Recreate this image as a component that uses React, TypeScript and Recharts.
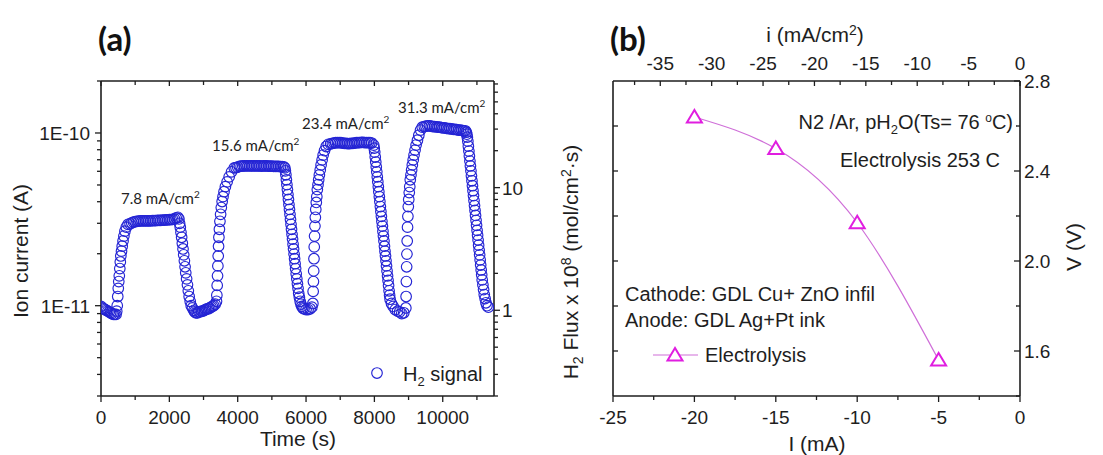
import React from "react";
import { ScatterChart, Scatter, XAxis, YAxis, ComposedChart, Line } from "recharts";

// ---------- Panel (a): H2 signal, ion current (units of 1E-11 A) vs time (s) ----------
const timeS = [
  // baseline
  0, 40, 80, 120, 160, 200, 240, 280, 320, 360, 400, 440,
  // rise 1
  460, 475, 490, 505, 520, 535, 550, 565, 580, 600, 620, 645, 670, 700, 740, 790,
  // plateau 1
  850, 900, 950, 1000, 1050, 1100, 1150, 1200, 1250, 1300, 1350, 1400, 1450, 1500, 1550, 1600, 1650, 1700, 1750, 1800, 1850, 1900, 1950, 2000, 2050, 2100, 2150, 2200, 2250,
  // fall 1
  2280, 2300, 2320, 2340, 2360, 2380, 2400, 2420, 2440, 2460, 2480, 2505, 2530, 2555, 2580, 2610, 2640, 2675, 2720,
  // baseline 2
  2740, 2780, 2820, 2860, 2900, 2940, 2980, 3020, 3060, 3100, 3140, 3180, 3220, 3260, 3300, 3340,
  // rise 2
  3380, 3390, 3400, 3410, 3420, 3430, 3440, 3450, 3465, 3480, 3500, 3520, 3545, 3570, 3600, 3640, 3690, 3750, 3820, 3900,
  // plateau 2
  3950, 4000, 4050, 4100, 4150, 4200, 4250, 4300, 4350, 4400, 4450, 4500, 4550, 4600, 4650, 4700, 4750, 4800, 4850, 4900, 4950, 5000, 5050, 5100, 5150, 5200, 5250, 5300, 5350,
  // fall 2
  5380, 5395, 5410, 5425, 5440, 5455, 5470, 5485, 5500, 5515, 5530, 5545, 5560, 5575, 5590, 5605, 5620, 5635, 5650, 5665, 5680, 5695,
  5712, 5730, 5748, 5766, 5785, 5805, 5828, 5852, 5878, 5905,
  // baseline 3
  5940, 6000, 6060, 6120, 6170,
  // rise 3
  6200, 6208, 6216, 6224, 6232, 6240, 6250, 6260, 6272, 6285, 6300, 6315, 6330, 6350, 6370, 6390, 6415, 6440, 6470, 6500, 6540, 6590, 6650,
  // plateau 3
  6720, 6770, 6820, 6870, 6920, 6970, 7020, 7070, 7120, 7170, 7220, 7270, 7320, 7370, 7420, 7470, 7520, 7570, 7620, 7670, 7720, 7770, 7820, 7870, 7920,
  // fall 3
  7980, 7995, 8010, 8025, 8040, 8055, 8070, 8085, 8100, 8115, 8130, 8145, 8160, 8175, 8190, 8205, 8220, 8235, 8250, 8265, 8280, 8295,
  8310, 8325, 8340, 8355, 8370, 8385, 8400, 8415, 8430, 8445, 8460, 8500, 8550, 8610, 8680,
  // baseline 4
  8740, 8800, 8860,
  // rise 4
  8920, 8928, 8936, 8944, 8952, 8960, 8970, 8980, 8992, 9005, 9020, 9035, 9050, 9070, 9090, 9110, 9135, 9160, 9190, 9220, 9260, 9300, 9350, 9400,
  // plateau 4
  9460, 9510, 9560, 9610, 9660, 9710, 9760, 9810, 9860, 9910, 9960, 10010, 10060, 10110, 10160, 10210, 10260, 10310, 10360, 10410, 10460, 10510, 10560, 10610, 10660,
  // fall 4
  10690, 10705, 10720, 10735, 10750, 10765, 10780, 10795, 10810, 10825, 10840, 10855, 10870, 10885, 10900, 10915, 10930, 10945, 10960, 10975,
  10990, 11005, 11020, 11035, 11050, 11065, 11080, 11095, 11110, 11125, 11140, 11155, 11175, 11195, 11215, 11240, 11265, 11295, 11335,
];

const ionCurrentE11 = [
  // baseline
  0.99, 0.97, 0.96, 0.95, 0.94, 0.93, 0.92, 0.91, 0.9, 0.89, 0.89, 0.89,
  // rise 1
  0.93, 1.0, 1.13, 1.26, 1.38, 1.49, 1.64, 1.79, 1.94, 2.07, 2.21, 2.37, 2.53, 2.7, 2.85, 2.96,
  // plateau 1
  2.98, 3.02, 3.05, 3.07, 3.08, 3.09, 3.1, 3.1, 3.1, 3.1, 3.1, 3.1, 3.1, 3.11, 3.11, 3.11, 3.12, 3.12, 3.12, 3.13, 3.13, 3.14, 3.14, 3.15, 3.15, 3.16, 3.18, 3.22, 3.25,
  // fall 1
  3.18, 3.0, 2.85, 2.66, 2.49, 2.3, 2.13, 1.97, 1.82, 1.68, 1.55, 1.43, 1.32, 1.22, 1.13, 1.06, 1.0, 0.97, 0.94,
  // baseline 2
  0.92, 0.91, 0.91, 0.92, 0.92, 0.93, 0.93, 0.94, 0.95, 0.96, 0.96, 0.97, 0.98, 0.99, 1.0, 1.02,
  // rise 2
  1.06, 1.15, 1.31, 1.49, 1.7, 1.94, 2.21, 2.49, 2.77, 3.08, 3.38, 3.7, 4.01, 4.28, 4.57, 4.89, 5.21, 5.57, 5.96, 6.28,
  // plateau 2
  6.3, 6.35, 6.4, 6.42, 6.44, 6.45, 6.45, 6.46, 6.45, 6.45, 6.44, 6.45, 6.46, 6.45, 6.44, 6.43, 6.44, 6.45, 6.44, 6.43, 6.42, 6.42, 6.41, 6.41, 6.4, 6.4, 6.39, 6.38, 6.36,
  // fall 2
  6.28, 6.04, 5.73, 5.36, 5.02, 4.7, 4.4, 4.12, 3.85, 3.61, 3.38, 3.16, 2.96, 2.77, 2.59, 2.43, 2.27, 2.13, 1.99, 1.87, 1.75, 1.64,
  1.53, 1.43, 1.34, 1.26, 1.18, 1.12, 1.06, 1.02, 0.99, 0.97,
  // baseline 3
  0.96, 0.95, 0.95, 0.96, 0.98,
  // rise 3
  1.03, 1.21, 1.38, 1.59, 1.87, 2.19, 2.53, 2.89, 3.25, 3.61, 3.96, 4.28, 4.7, 5.02, 5.36, 5.72, 6.11, 6.53, 6.98, 7.45, 7.9, 8.35, 8.6,
  // plateau 3
  8.65, 8.7, 8.75, 8.78, 8.8, 8.8, 8.78, 8.75, 8.72, 8.7, 8.68, 8.68, 8.7, 8.72, 8.75, 8.78, 8.8, 8.8, 8.82, 8.82, 8.8, 8.8, 8.8, 8.78, 8.75,
  // fall 3
  8.51, 8.17, 7.75, 7.26, 6.79, 6.36, 5.96, 5.57, 5.22, 4.89, 4.57, 4.28, 4.01, 3.75, 3.51, 3.29, 3.08, 2.89, 2.7, 2.53, 2.37, 2.21,
  2.07, 1.94, 1.82, 1.7, 1.59, 1.49, 1.4, 1.31, 1.22, 1.15, 1.09, 1.03, 0.99, 0.95, 0.93,
  // baseline 4
  0.92, 0.9, 0.91,
  // rise 4
  0.97, 1.13, 1.38, 1.68, 1.99, 2.37, 2.85, 3.29, 3.75, 4.12, 4.52, 4.89, 5.36, 5.72, 6.11, 6.53, 6.98, 7.45, 7.96, 8.51, 9.08, 9.7, 10.4, 10.8,
  // plateau 4
  10.9, 10.95, 11.0, 11.0, 10.95, 10.9, 10.9, 10.85, 10.8, 10.8, 10.75, 10.7, 10.7, 10.65, 10.6, 10.6, 10.55, 10.5, 10.5, 10.45, 10.4, 10.4, 10.35, 10.3, 10.3,
  // fall 4
  10.1, 9.84, 9.46, 8.97, 8.39, 7.86, 7.36, 6.88, 6.44, 6.04, 5.65, 5.29, 4.95, 4.63, 4.34, 4.06, 3.8, 3.56, 3.33, 3.12,
  2.92, 2.73, 2.56, 2.4, 2.24, 2.1, 1.97, 1.84, 1.72, 1.61, 1.51, 1.41, 1.32, 1.24, 1.16, 1.1, 1.04, 1.0, 0.98,
];

const timeTicks = [0, 1000, 2000, 3000, 4000, 5000, 6000, 7000, 8000, 9000, 10000, 11000];
const timeMajor = [0, 2000, 4000, 6000, 8000, 10000];
const ionTicks = [0.3, 0.4, 0.5, 0.6, 0.7, 0.8, 0.9, 1, 2, 3, 4, 5, 6, 7, 8, 9, 10, 20];
const ionMajor = [1, 10];
const ionLabels = ["1E-11", "1E-10"];
const fluxTicks = [0.2, 0.3, 0.4, 0.5, 0.6, 0.7, 0.8, 0.9, 1, 2, 3, 4, 5, 6, 7, 8, 9, 10, 20, 30, 40, 50, 60, 70];
const fluxMajor = [1, 10];
const fluxLabels = ["1", "10"];
const pulseLabels = ["7.8", "15.6", "23.4", "31.3"];

// ---------- Panel (b): V vs I ----------
const currentMA = [-20, -15, -10, -5];
const voltageV = [2.64, 2.5, 2.17, 1.56];
const currentTicks = [-25, -22.5, -20, -17.5, -15, -12.5, -10, -7.5, -5, -2.5, 0];
const currentMajor = [-25, -20, -15, -10, -5, 0];
const densityTicks = [-37.5, -35, -32.5, -30, -27.5, -25, -22.5, -20, -17.5, -15, -12.5, -10, -7.5, -5, -2.5, 0];
const densityMajor = [-35, -30, -25, -20, -15, -10, -5, 0];
const voltTicks = [1.4, 1.6, 1.8, 2.0, 2.2, 2.4, 2.6, 2.8];
const voltMajor = [1.6, 2.0, 2.4, 2.8];
const leftFluxTicksB = [1.6, 1.8, 2.0, 2.2, 2.4, 2.6];

const ionData = timeS
  .slice(0, Math.min(timeS.length, ionCurrentE11.length))
  .map((t, i) => ({ t, i: ionCurrentE11[i] }));
const ivData = currentMA.map((c, k) => ({ I: c, V: voltageV[k] }));

const AX = "#1e1e1e";
const SANS = "'Liberation Sans', Arial, sans-serif";
const CAL = "Lato, 'Open Sans', sans-serif";
const BLUE = "#2424d4";
const MAG = "#e01ee0";
const TICK_FS = 19;
const TITLE_FS = 21;
const NOTE_FS = 20;

const near = (a: number, list: number[]) => list.findIndex((m) => Math.abs(m - a) < 1e-6);

function makeTick(
  side: "bottom" | "top" | "left" | "right",
  dir: "in" | "out",
  majors: number[],
  labels: ((v: number, k: number) => string) | null,
  majorLen = 6,
  minorLen = 3.5,
  gap = 6
) {
  return (p: any) => {
    const x = p.x;
    const y = p.y;
    const v = p.payload.value;
    const k = near(v, majors);
    const maj = k >= 0;
    const L = maj ? majorLen : minorLen;
    const s = dir === "out" ? 1 : -1;
    let x2 = x;
    let y2 = y;
    if (side === "bottom") y2 = y + s * L;
    if (side === "top") y2 = y - s * L;
    if (side === "left") x2 = x - s * L;
    if (side === "right") x2 = x + s * L;
    const txt = maj && labels ? labels(v, k) : null;
    let label: any = null;
    const tp = { fontFamily: SANS, fontSize: TICK_FS, fill: AX } as any;
    if (txt !== null) {
      if (side === "bottom")
        label = (
          <text x={x} y={y + 28} textAnchor="middle" {...tp}>
            {txt}
          </text>
        );
      if (side === "top")
        label = (
          <text x={x} y={y - 11} textAnchor="middle" {...tp}>
            {txt}
          </text>
        );
      if (side === "left")
        label = (
          <text x={x - gap} y={y + 7} textAnchor="end" {...tp}>
            {txt}
          </text>
        );
      if (side === "right")
        label = (
          <text x={x + gap} y={y + 7} textAnchor="start" {...tp}>
            {txt}
          </text>
        );
    }
    return (
      <g>
        <line x1={x} y1={y} x2={x2} y2={y2} stroke={AX} strokeWidth={1.3} />
        {label}
      </g>
    );
  };
}

const axisLine = { stroke: AX, strokeWidth: 1.6 };

const Circle = (p: any) => (
  <circle cx={p.cx} cy={p.cy} r={5.3} fill="none" stroke={BLUE} strokeWidth={1.15} />
);
const Nothing = () => <g />;

const Tri = (p: any) => {
  const { cx, cy } = p;
  if (cx == null || cy == null) return <g />;
  return (
    <path
      d={`M${cx},${cy - 7} L${cx - 7.5},${cy + 5.5} L${cx + 7.5},${cy + 5.5} Z`}
      fill="#ffffff"
      stroke={MAG}
      strokeWidth={2}
    />
  );
};

function PanelA() {
  return (
    <ScatterChart width={560} height={455} margin={{ top: 0, right: 0, bottom: 0, left: 0 }}>
      <XAxis
        xAxisId="b"
        dataKey="t"
        type="number"
        domain={[0, 11500]}
        allowDataOverflow
        ticks={timeTicks}
        interval={0}
        height={59}
        tickSize={0}
        tickMargin={0}
        tickLine={false}
        axisLine={axisLine}
        tick={makeTick("bottom", "out", timeMajor, (v) => String(v), 6, 4)}
      />
      <XAxis
        xAxisId="t"
        dataKey="t"
        orientation="top"
        type="number"
        domain={[0, 11500]}
        allowDataOverflow
        ticks={timeTicks}
        interval={0}
        height={81}
        tickSize={0}
        tickMargin={0}
        tickLine={false}
        axisLine={axisLine}
        tick={makeTick("top", "in", timeMajor, null, 5, 4)}
      />
      <YAxis
        yAxisId="ion"
        dataKey="i"
        type="number"
        scale="log"
        domain={[0.3, 20]}
        allowDataOverflow
        ticks={ionTicks}
        interval={0}
        width={101}
        tickSize={0}
        tickMargin={0}
        tickLine={false}
        axisLine={axisLine}
        tick={makeTick("left", "out", ionMajor, (v, k) => ionLabels[k], 6, 4, 11)}
      />
      <YAxis
        yAxisId="flux"
        orientation="right"
        type="number"
        scale="log"
        domain={[0.2, 74]}
        allowDataOverflow
        ticks={fluxTicks}
        interval={0}
        width={66}
        tickSize={0}
        tickMargin={0}
        tickLine={false}
        axisLine={axisLine}
        tick={makeTick("right", "out", fluxMajor, (v, k) => fluxLabels[k], 6, 4, 8)}
      />
      <Scatter xAxisId="t" yAxisId="ion" data={ionData} shape={Nothing} isAnimationActive={false} />
      <Scatter xAxisId="b" yAxisId="ion" data={ionData} shape={Circle} isAnimationActive={false} />
    </ScatterChart>
  );
}

function PanelB() {
  return (
    <ComposedChart width={543} height={455} data={ivData} margin={{ top: 0, right: 0, bottom: 0, left: 0 }}>
      <XAxis
        xAxisId="b"
        dataKey="I"
        type="number"
        domain={[-25, 0]}
        allowDataOverflow
        ticks={currentTicks}
        interval={0}
        height={59}
        tickSize={0}
        tickMargin={0}
        tickLine={false}
        axisLine={axisLine}
        tick={makeTick("bottom", "out", currentMajor, (v) => String(v), 6, 4)}
      />
      <XAxis
        xAxisId="t"
        dataKey="I"
        orientation="top"
        type="number"
        domain={[-39.6, 0]}
        allowDataOverflow
        ticks={densityTicks}
        interval={0}
        height={81}
        tickSize={0}
        tickMargin={0}
        tickLine={false}
        axisLine={axisLine}
        tick={makeTick("top", "in", densityMajor, (v) => String(v), 5, 4)}
      />
      <YAxis
        yAxisId="l"
        type="number"
        domain={[1.4, 2.8]}
        allowDataOverflow
        ticks={leftFluxTicksB}
        interval={0}
        width={53}
        tickSize={0}
        tickMargin={0}
        tickLine={false}
        axisLine={axisLine}
        tick={makeTick("left", "in", leftFluxTicksB, null, 5, 5)}
      />
      <YAxis
        yAxisId="r"
        orientation="right"
        type="number"
        domain={[1.4, 2.8]}
        allowDataOverflow
        ticks={voltTicks}
        interval={0}
        width={83}
        tickSize={0}
        tickMargin={0}
        tickLine={false}
        axisLine={axisLine}
        tick={makeTick("right", "in", voltMajor, (v) => v.toFixed(1), 6, 4, 4)}
      />
      <Line
        xAxisId="t"
        yAxisId="r"
        dataKey="V"
        stroke="none"
        dot={false}
        activeDot={false}
        isAnimationActive={false}
      />
      <Line
        xAxisId="b"
        yAxisId="r"
        dataKey="V"
        type="natural"
        stroke="#cf6fd8"
        strokeWidth={1.2}
        dot={Tri}
        activeDot={false}
        isAnimationActive={false}
      />
    </ComposedChart>
  );
}

function Overlay() {
  const title = { fontFamily: SANS, fontSize: TITLE_FS, fill: AX } as any;
  const note = { fontFamily: SANS, fontSize: NOTE_FS, fill: AX } as any;
  const annX = [121, 212, 302, 398];
  const annY = [204, 151, 129, 113];
  return (
    <svg
      width={1103}
      height={455}
      style={{ position: "absolute", left: 0, top: 0, pointerEvents: "none" }}
    >
      <text x={98} y={51} fontFamily={CAL} fontWeight={700} fontSize={33} fill="#111">
        (a)
      </text>
      <text x={610} y={51} fontFamily={CAL} fontWeight={700} fontSize={33} fill="#111">
        (b)
      </text>
      {pulseLabels.map((p, k) => (
        <text key={p} x={annX[k]} y={annY[k]} fontFamily={CAL} fontSize={15} fill="#222">
          {p} mA/cm<tspan dy={-6} fontSize={10}>2</tspan>
        </text>
      ))}
      <text transform="translate(28,251) rotate(-90)" textAnchor="middle" {...title}>
        Ion current (A)
      </text>
      <text x={298} y={446} textAnchor="middle" {...title}>
        Time (s)
      </text>
      <circle cx={377} cy={373} r={5.3} fill="none" stroke={BLUE} strokeWidth={1.15} />
      <text x={403} y={381} {...note}>
        H<tspan dy={5} fontSize={13}>2</tspan>
        <tspan dy={-5}> signal</tspan>
      </text>
      <text transform="translate(578,262) rotate(-90)" textAnchor="middle" {...title}>
        H<tspan dy={5} fontSize={14}>2</tspan>
        <tspan dy={-5}> Flux x 10</tspan>
        <tspan dy={-7} fontSize={14}>8</tspan>
        <tspan dy={7}> (mol/cm</tspan>
        <tspan dy={-7} fontSize={14}>2</tspan>
        <tspan dy={7}>·s)</tspan>
      </text>
      <text x={815} y={42} textAnchor="middle" {...title}>
        i (mA/cm<tspan dy={-7} fontSize={14}>2</tspan>
        <tspan dy={7}>)</tspan>
      </text>
      <text x={1013} y={129} textAnchor="end" {...note}>
        N2 /Ar, pH<tspan dy={5} fontSize={13}>2</tspan>
        <tspan dy={-5}>O(Ts= 76 </tspan>
        <tspan dy={-7} fontSize={12}>o</tspan>
        <tspan dy={7}>C)</tspan>
      </text>
      <text x={840} y={167} {...note}>
        Electrolysis 253 C
      </text>
      <text x={625} y={301} {...note}>
        Cathode: GDL Cu+ ZnO infil
      </text>
      <text x={625} y={327} {...note}>
        Anode: GDL Ag+Pt ink
      </text>
      <line x1={653} y1={355} x2={698} y2={355} stroke="#cf6fd8" strokeWidth={1.2} />
      <path d="M675,348 L667.5,360.5 L682.5,360.5 Z" fill="#fff" stroke={MAG} strokeWidth={2} />
      <text x={705} y={362} {...note}>
        Electrolysis
      </text>
      <text transform="translate(1081,247) rotate(-90)" textAnchor="middle" {...title}>
        V (V)
      </text>
      <text x={817} y={451} textAnchor="middle" {...title}>
        I (mA)
      </text>
    </svg>
  );
}

export default function App() {
  return (
    <div style={{ position: "relative", width: 1103, height: 455, background: "#fff" }}>
      <style>{"body{margin:0;background:#fff}"}</style>
      <div style={{ position: "absolute", left: 0, top: 0 }}>
        <PanelA />
      </div>
      <div style={{ position: "absolute", left: 560, top: 0 }}>
        <PanelB />
      </div>
      <Overlay />
    </div>
  );
}
